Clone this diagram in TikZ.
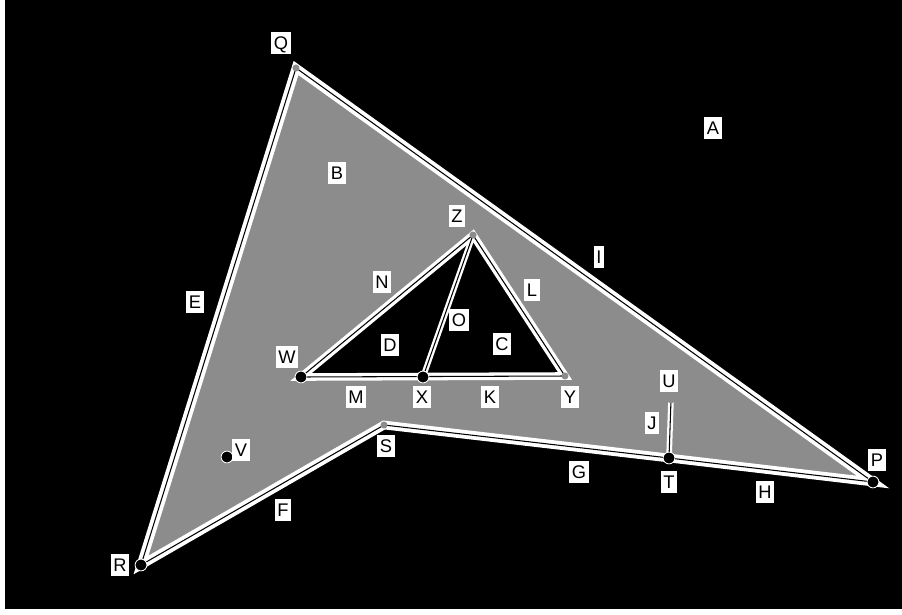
\documentclass[tikz,border=0pt]{standalone}
\usepackage{fontspec}
\setmainfont{Liberation Sans}
\usetikzlibrary{positioning}

\tikzset{
    lbl/.style={fill=white, text=black, inner xsep=2pt, inner ysep=3.4pt,
        text height=9pt, text depth=0pt, font=\fontsize{13}{14}\selectfont},
    rimw/.style={draw=white, line width=6.2pt, line join=miter},
    rimb/.style={draw=black, line width=0.75pt},
    thinw/.style={draw=white, line width=4pt},
    bigdot/.style={circle, fill=black, draw=white, line width=0.6pt, inner sep=0pt, minimum size=8.4pt},
    smalldot/.style={circle, fill=black!45, inner sep=0pt, minimum size=5pt}
}

\begin{document}
\begin{tikzpicture}[x=0.025cm, y=-0.025cm]
    % page and dark ground
    \fill[white] (0,0) rectangle (902,614);
    \fill[black] (5,0) rectangle (902,609);
    \useasboundingbox (0,0) rectangle (902,614);

    % vertices
    \foreach \n/\x/\y in {Q/296/68, P/873/482, T/669/458, S/384/425, R/141/565,
                          W/301/377, X/423/377, Y/565/376, Z/473/235, U/671/400, V/227/457}
        \coordinate (\n) at (\x,\y);

    % regions
    \fill[black!45] (Q) -- (P) -- (T) -- (S) -- (R) -- cycle;
    \fill[black] (W) -- (Z) -- (Y) -- cycle;

    % edges: white band, thin dark core
    \draw[rimw] (Q) -- (P) -- (T) -- (S) -- (R) -- cycle;
    \draw[rimw, line width=5.4pt] (W) -- (Z) -- (Y) -- cycle;
    \draw[thinw] (Z) -- (X);
    \draw[thinw] (T) -- (U);
    \draw[rimb] (Q) -- (P) -- (T) -- (S) -- (R) -- cycle;
    \draw[rimb] (W) -- (Z) -- (Y) -- cycle;
    \draw[rimb] (Z) -- (X);
    \draw[rimb] (T) -- (U);

    % vertex marks
    \foreach \n in {W,X,T,P,R,V}
        \node[bigdot] (d\n) at (\n) {};
    \foreach \n in {Q,Z,Y,U,S}
        \node[smalldot] (d\n) at (\n) {};

    % labels
    \foreach \t/\x/\y in {A/713/128, B/337/173, E/195/302, I/599/257, Q/281/43,
                          Z/457/216, N/382/282, L/532/290, O/459/320, D/390/345,
                          C/502/344, W/287/357, M/356/397, X/422/397, K/490/397,
                          Y/570/397, U/669/381, J/652/423, S/386/446, T/669/482,
                          G/579/472, P/877/460, H/765/492, F/283/510, R/120/565, V/241/450}
        \node[lbl] (l\t) at (\x,\y) {\t};
\end{tikzpicture}
\end{document}
